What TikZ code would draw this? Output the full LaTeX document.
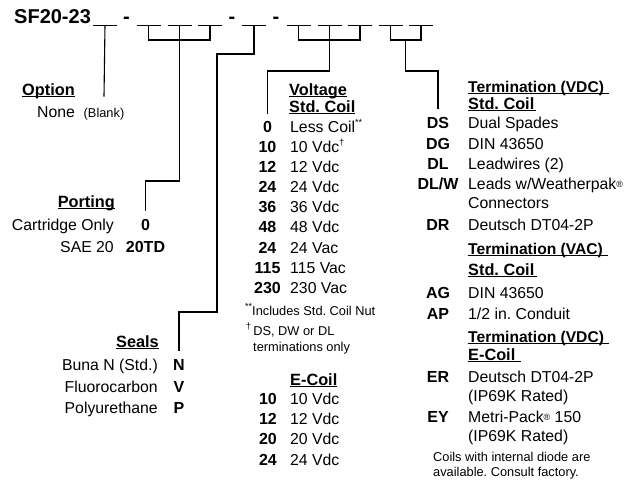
\documentclass[tikz,border=0pt]{standalone}
\usepackage{fontspec}
\setmainfont{Liberation Sans}
\usetikzlibrary{calc}
\frenchspacing

\newcommand\hdl[2][0pt]{\setbox0=\hbox{#2}\rlap{\rule[-1.8pt]{\dimexpr\wd0+#1\relax}{1.1pt}}\box0}
\newcommand\sups[1]{\raisebox{.42em}{\fontsize{9}{9}\selectfont#1}}
\newcommand\regmark{\raisebox{.1em}{\fontsize{9}{9}\selectfont ®}}

\tikzset{
  lbl/.style={inner sep=0pt, font=\fontsize{15.8}{18}\selectfont},
  code/.style={inner sep=0pt, anchor=base, font=\fontsize{16}{18}\selectfont\bfseries},
  desc/.style={lbl, anchor=base west},
  descl/.style={lbl, anchor=base east},
  head/.style={inner sep=0pt, anchor=base west, font=\fontsize{16.3}{18}\selectfont\bfseries},
  termhead/.style={head, font=\fontsize{15.6}{18}\selectfont\bfseries},
  note/.style={inner sep=0pt, anchor=base west, font=\fontsize{12.8}{14}\selectfont},
  title/.style={inner sep=0pt, anchor=base west, font=\fontsize{20}{22}\selectfont\bfseries},
  wire/.style={line width=1.1pt},
  blank/.style={line width=1pt}
}

\begin{document}
\begin{tikzpicture}[x=1pt,y=-1pt]
  \useasboundingbox (0,0) rectangle (633,483);

  % model code
  \node[title] (sf) at (14,23) {SF20-23};
  \node[title, anchor=base] (d1) at (126.5,23) {-};
  \node[title, anchor=base] (d2) at (232,23) {-};
  \node[title, anchor=base] (d3) at (276,23) {-};
  \foreach \n/\x in {1/105,2/148.5,3/179.5,4/210,5/254,6/298.5,7/329.5,8/360,9/390.5,10/421}
    {\draw[blank] (\x-12,25) -- (\x+12,25);
     \coordinate (b\n) at (\x,25);}

  % option
  \node[head] (opt) at (22,95) {\hdl{Option}};
  \node[desc] (optnone) at (37,117) {None};
  \node[note, anchor=base] (optb) at (104,117) {(Blank)};

  % porting
  \node[head, anchor=base east] (port) at (115,207) {\hdl{Porting}};
  \node[descl] (portcart) at (114,230) {Cartridge Only};
  \node[code] (port0) at (145.5,230) {0};
  \node[descl] (portsae) at (114,252) {SAE 20};
  \node[code] (port20) at (145.5,252) {20TD};

  % seals
  \node[head, anchor=base east] (seal) at (159,347) {\hdl{Seals}};
  \node[descl] (sealbuna) at (158,370) {Buna N (Std.)};
  \node[code] (sealN) at (179,370) {N};
  \node[descl] (sealfluoro) at (158,392) {Fluorocarbon};
  \node[code] (sealV) at (179,392) {V};
  \node[descl] (sealpoly) at (158,413) {Polyurethane};
  \node[code] (sealP) at (179,413) {P};

  % voltage, std. coil
  \node[head] (volt) at (289,95) {\hdl{Voltage}};
  \node[head] (voltstd) at (289,112) {\hdl{Std. Coil}};
  \node[code] (volt0) at (267.5,132) {0};
  \node[desc] (voltless) at (290,132) {Less Coil\sups{**}};
  \node[code] (volt10) at (267.5,152) {10};
  \node[desc] (volt10d) at (290,152) {10 Vdc\sups{†}};
  \node[code] (volt12) at (267.5,172) {12};
  \node[desc] (volt12d) at (290,172) {12 Vdc};
  \node[code] (volt24) at (267.5,192) {24};
  \node[desc] (volt24d) at (290,192) {24 Vdc};
  \node[code] (volt36) at (267.5,212) {36};
  \node[desc] (volt36d) at (290,212) {36 Vdc};
  \node[code] (volt48) at (267.5,232) {48};
  \node[desc] (volt48d) at (290,232) {48 Vdc};
  \node[code] (volt24a) at (267.5,253) {24};
  \node[desc] (volt24ad) at (290,253) {24 Vac};
  \node[code] (volt115) at (267.5,273) {115};
  \node[desc] (volt115d) at (290,273) {115 Vac};
  \node[code] (volt230) at (267.5,293) {230};
  \node[desc] (volt230d) at (290,293) {230 Vac};
  \node[note] (nutnote) at (245,315) {\sups{**}Includes Std. Coil Nut};
  \node[note] (dagnote) at (246,335) {\sups{†}\,DS, DW or DL};
  \node[note] (dagnote2) at (253,351) {terminations only};

  % voltage, e-coil
  \node[head] (ecoil) at (290,385) {\hdl{E-Coil}};
  \node[code] (ecoil10) at (268,404) {10};
  \node[desc] (ecoil10d) at (290,404) {10 Vdc};
  \node[code] (ecoil12) at (268,424) {12};
  \node[desc] (ecoil12d) at (290,424) {12 Vdc};
  \node[code] (ecoil20) at (268,444) {20};
  \node[desc] (ecoil20d) at (290,444) {20 Vdc};
  \node[code] (ecoil24) at (268,465) {24};
  \node[desc] (ecoil24d) at (290,465) {24 Vdc};

  % termination
  \node[termhead] (term) at (468,92) {\hdl[5pt]{Termination (VDC)}};
  \node[head] (termstd) at (468,109) {\hdl[2pt]{Std. Coil}};
  \node[code] (tDS) at (438,128) {DS};
  \node[desc] (tDSd) at (468,128) {Dual Spades};
  \node[code] (tDG) at (438,149) {DG};
  \node[desc] (tDGd) at (468,149) {DIN 43650};
  \node[code] (tDL) at (438,169) {DL};
  \node[desc] (tDLd) at (468,169) {Leadwires (2)};
  \node[code] (tDLW) at (438,189) {DL/W};
  \node[desc] (tDLWd) at (468,189) {Leads w/Weatherpak\regmark};
  \node[desc] (tDLWd2) at (468,208) {Connectors};
  \node[code] (tDR) at (438,230) {DR};
  \node[desc] (tDRd) at (468,230) {Deutsch DT04-2P};
  \node[termhead] (termac) at (468,254) {\hdl[5pt]{Termination (VAC)}};
  \node[head] (termacstd) at (468,275) {\hdl[3pt]{Std. Coil}};
  \node[code] (tAG) at (438,298) {AG};
  \node[desc] (tAGd) at (468,298) {DIN 43650};
  \node[code] (tAP) at (438,319) {AP};
  \node[desc] (tAPd) at (468,319) {1/2 in. Conduit};
  \node[termhead] (terme) at (468,342) {\hdl[5pt]{Termination (VDC)}};
  \node[head] (termecoil) at (468,360) {\hdl[6pt]{E-Coil}};
  \node[code] (tER) at (438,382) {ER};
  \node[desc] (tERd) at (468,382) {Deutsch DT04-2P};
  \node[desc] (tERd2) at (468,401) {(IP69K Rated)};
  \node[code] (tEY) at (438,422) {EY};
  \node[desc] (tEYd) at (468,422) {Metri-Pack\regmark{} 150};
  \node[desc] (tEYd2) at (468,441) {(IP69K Rated)};
  \node[note] (diode) at (433,461) {Coils with internal diode are};
  \node[note] (diode2) at (433,476) {available. Consult factory.};

  % connectors
  \draw[wire] (b1) -- ([yshift=11pt]optb.north);
  \draw[wire] (b2) -- ++(0,15) -| (b4);
  \draw[wire] (b3) -- ++(0,156) -| ([yshift=8pt]port0.north);
  \draw[wire] (b5) -- ++(0,29) -- ++(-37,0) -- ++(0,258) -| ([yshift=8pt]sealN.north);
  \draw[wire] (b6) -- ++(0,15) -| (b8);
  \draw[wire] (b7) -- ++(0,46) -| ([yshift=7pt]volt0.north);
  \draw[wire] (b9) -- ++(0,15) -| (b10);
  \draw[wire] ($(b9)!.5!(b10)$) ++(0,15) -- ++(0,31) -| ([yshift=8pt]tDS.north);
\end{tikzpicture}
\end{document}
